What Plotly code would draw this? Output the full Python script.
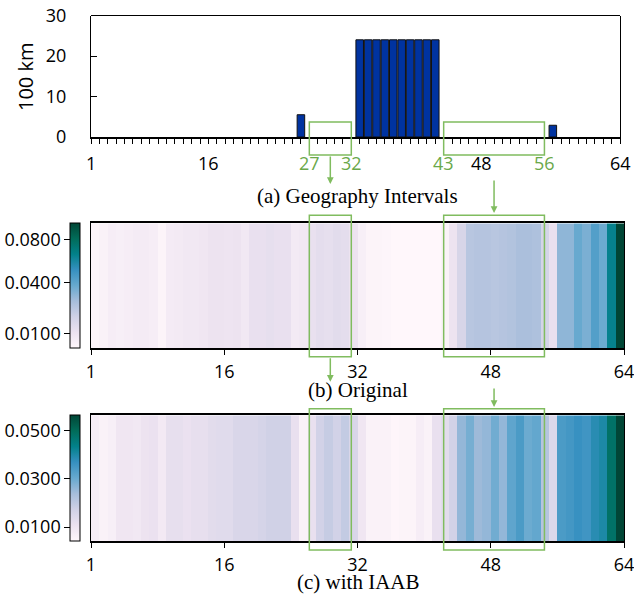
import numpy as np
import plotly.graph_objects as go

# ---------------- data ----------------
POSITIONS = list(range(1, 65))
DIST_POS = [26, 33, 34, 35, 36, 37, 38, 39, 40, 41, 42, 56]
DIST_100KM = [5.5, 24, 24, 24, 24, 24, 24, 24, 24, 24, 24, 2.9]

TOP_TICK_LABELS = ["1", "16", "27", "32", "43", "48", "56", "64"]
TOP_TICK_POS = [1, 15, 27, 32, 43, 47.5, 55, 64]
TOP_TICK_HIGHLIGHT = [False, False, True, True, True, False, True, False]
INTERVALS = [(27, 32), (43, 55)]

HEAT_TICK_POS = [0, 16, 32, 48, 64]
HEAT_TICK_LABELS = ["1", "16", "32", "48", "64"]

ORIGINAL = [
    0.0057, 0.0064, 0.0076, 0.0072, 0.0076, 0.0081, 0.0081, 0.0076,
    0.0060, 0.0081, 0.0085, 0.0089, 0.0089, 0.0094, 0.0104, 0.0104,
    0.0099, 0.0104, 0.0089, 0.0114, 0.0114, 0.0119, 0.0114, 0.0114,
    0.0085, 0.0089, 0.0114, 0.0124, 0.0119, 0.0130, 0.0124, 0.0104,
    0.0072, 0.0060, 0.0060, 0.0057, 0.0053, 0.0053, 0.0053, 0.0053,
    0.0053, 0.0053, 0.0064, 0.0104, 0.0159, 0.0226, 0.0233, 0.0233,
    0.0226, 0.0233, 0.0240, 0.0256, 0.0256, 0.0248, 0.0165, 0.0114,
    0.0304, 0.0304, 0.0375, 0.0339, 0.0424, 0.0366, 0.0634, 0.0990,
]
IAAB = [
    0.0073, 0.0058, 0.0068, 0.0094, 0.0094, 0.0089, 0.0105, 0.0110,
    0.0084, 0.0120, 0.0120, 0.0110, 0.0120, 0.0120, 0.0131, 0.0136,
    0.0136, 0.0152, 0.0152, 0.0152, 0.0162, 0.0173, 0.0173, 0.0173,
    0.0115, 0.0058, 0.0115, 0.0167, 0.0188, 0.0167, 0.0193, 0.0152,
    0.0094, 0.0058, 0.0058, 0.0058, 0.0047, 0.0052, 0.0052, 0.0073,
    0.0058, 0.0115, 0.0131, 0.0167, 0.0256, 0.0287, 0.0246, 0.0256,
    0.0293, 0.0256, 0.0313, 0.0340, 0.0298, 0.0308, 0.0214, 0.0146,
    0.0340, 0.0350, 0.0365, 0.0355, 0.0385, 0.0400, 0.0481, 0.0564,
]
ORIG_RANGE = (0.0053, 0.099)
IAAB_RANGE = (0.0042, 0.0564)
ORIG_CB_TICKS = [0.01, 0.04, 0.08]
ORIG_CB_LABELS = ["0.0100", "0.0400", "0.0800"]
IAAB_CB_TICKS = [0.01, 0.03, 0.05]
IAAB_CB_LABELS = ["0.0100", "0.0300", "0.0500"]

TITLES = ["(a) Geography Intervals", "(b) Original", "(c) with IAAB"]
Y_TITLE = "100 km"

# ---------------- styling / layout ----------------
W, H = 634, 594
def px(x):
    return x / W
def py(y):
    return 1 - y / H

SANS = "Open Sans"
SERIF = "Liberation Serif"
GREEN_BOX = "#80bc5f"
GREEN_TXT = "#6aa84a"
BAR_COLOR = "#0033a0"

top_dom_x = [px(91), px(620)]
top_dom_y = [py(137), py(15.5)]
heat_dom_x = [px(91), px(624)]
b_dom_y = [py(348), py(223.3)]
c_dom_y = [py(541), py(415.3)]
cb_x = px(70.3)

fig = go.Figure()

# (a) bars
fig.add_trace(go.Bar(
    x=DIST_POS, y=DIST_100KM, width=0.9,
    marker=dict(color=BAR_COLOR, line=dict(color="#111111", width=1)),
    xaxis="x", yaxis="y", showlegend=False,
))

# (b) original heatmap (power-0.5 norm)
sq = np.sqrt
fig.add_trace(go.Heatmap(
    z=[sq(np.array(ORIGINAL))], x0=0.5, dx=1, y0=0, dy=1,
    colorscale="PuBuGn", zmin=sq(ORIG_RANGE[0]), zmax=sq(ORIG_RANGE[1]),
    xaxis="x2", yaxis="y2", showscale=True,
    colorbar=dict(x=cb_x, xanchor="left", y=b_dom_y[0], yanchor="bottom",
                  len=b_dom_y[1] - b_dom_y[0], lenmode="fraction",
                  thickness=10, xpad=0, ypad=0, outlinewidth=1,
                  outlinecolor="black", showticklabels=False, ticks=""),
))

# (c) IAAB heatmap (linear)
fig.add_trace(go.Heatmap(
    z=[IAAB], x0=0.5, dx=1, y0=0, dy=1,
    colorscale="PuBuGn", zmin=IAAB_RANGE[0], zmax=IAAB_RANGE[1],
    xaxis="x3", yaxis="y3", showscale=True,
    colorbar=dict(x=cb_x, xanchor="left", y=c_dom_y[0], yanchor="bottom",
                  len=c_dom_y[1] - c_dom_y[0], lenmode="fraction",
                  thickness=10, xpad=0, ypad=0, outlinewidth=1,
                  outlinecolor="black", showticklabels=False, ticks=""),
))

# dummy traces for colorbar tick axes
fig.add_trace(go.Scatter(x=[None], y=[None], xaxis="x2", yaxis="y4",
                         showlegend=False, hoverinfo="skip"))
fig.add_trace(go.Scatter(x=[None], y=[None], xaxis="x3", yaxis="y5",
                         showlegend=False, hoverinfo="skip"))

tickfont = dict(family=SANS, size=18, color="black")

fig.update_layout(
    width=W, height=H, margin=dict(l=0, r=0, t=0, b=0, pad=0, autoexpand=False),
    plot_bgcolor="white", paper_bgcolor="white", showlegend=False,
    xaxis=dict(domain=top_dom_x, anchor="y", range=[1, 64],
               tickmode="array", tickvals=POSITIONS, showticklabels=False,
               ticks="outside", ticklen=5, tickwidth=1, tickcolor="black",
               showline=True, linecolor="black", linewidth=2, mirror=False,
               showgrid=False, zeroline=False),
    yaxis=dict(domain=top_dom_y, anchor="x", range=[0, 30],
               tickmode="array", tickvals=[0, 10, 20, 30],
               ticks="inside", ticklen=6, tickcolor="black",
               ticklabelstandoff=20, tickfont=tickfont,
               showline=True, linecolor="black", linewidth=1, mirror=True,
               showgrid=False, zeroline=False),
    xaxis2=dict(domain=heat_dom_x, anchor="y2", range=[0, 64],
                tickmode="array", tickvals=HEAT_TICK_POS, ticktext=HEAT_TICK_LABELS,
                ticks="outside", ticklen=5, tickcolor="black", tickfont=tickfont,
                ticklabeloverflow="allow", ticklabelstandoff=2,
                showline=True, linecolor="black", linewidth=1.5, mirror=True,
                showgrid=False, zeroline=False),
    yaxis2=dict(domain=b_dom_y, anchor="x2", range=[-0.5, 0.5],
                showticklabels=False, ticks="", showline=True, linecolor="black",
                linewidth=1, mirror=True, showgrid=False, zeroline=False),
    xaxis3=dict(domain=heat_dom_x, anchor="y3", range=[0, 64],
                tickmode="array", tickvals=HEAT_TICK_POS, ticktext=HEAT_TICK_LABELS,
                ticks="outside", ticklen=5, tickcolor="black", tickfont=tickfont,
                ticklabeloverflow="allow", ticklabelstandoff=2,
                showline=True, linecolor="black", linewidth=1.5, mirror=True,
                showgrid=False, zeroline=False),
    yaxis3=dict(domain=c_dom_y, anchor="x3", range=[-0.5, 0.5],
                showticklabels=False, ticks="", showline=True, linecolor="black",
                linewidth=1, mirror=True, showgrid=False, zeroline=False),
    yaxis4=dict(overlaying="y2", anchor="free", position=cb_x, side="left",
                range=[sq(ORIG_RANGE[0]), sq(ORIG_RANGE[1])],
                tickmode="array", tickvals=[sq(v) for v in ORIG_CB_TICKS],
                ticktext=ORIG_CB_LABELS, ticks="outside", ticklen=6,
                tickcolor="black", tickfont=tickfont, showline=False,
                showgrid=False, zeroline=False),
    yaxis5=dict(overlaying="y3", anchor="free", position=cb_x, side="left",
                range=list(IAAB_RANGE),
                tickmode="array", tickvals=IAAB_CB_TICKS,
                ticktext=IAAB_CB_LABELS, ticks="outside", ticklen=6,
                tickcolor="black", tickfont=tickfont, showline=False,
                showgrid=False, zeroline=False),
)

# top border of (a)
fig.add_shape(type="line", xref="x domain", yref="y domain", x0=0, x1=1, y0=1, y1=1,
              line=dict(color="black", width=1))

# top x tick labels
for lab, pos, hl in zip(TOP_TICK_LABELS, TOP_TICK_POS, TOP_TICK_HIGHLIGHT):
    fig.add_annotation(x=pos, y=py(163), xref="x", yref="paper", text=lab,
                       showarrow=False, xanchor="center", yanchor="middle",
                       font=dict(family=SANS, size=18,
                                 color=GREEN_TXT if hl else "black"))

# y title
fig.add_annotation(x=px(25), y=py(77), xref="paper", yref="paper", text=Y_TITLE,
                   textangle=-90, showarrow=False, xanchor="center", yanchor="middle",
                   font=dict(family=SANS, size=20, color="black"))

# panel titles
title_y = [py(196), py(390), py(582)]
cx = (heat_dom_x[0] + heat_dom_x[1]) / 2
for t, ty in zip(TITLES, title_y):
    fig.add_annotation(x=cx, y=ty, xref="paper", yref="paper", text=t,
                       showarrow=False, xanchor="center", yanchor="middle",
                       font=dict(family=SERIF, size=21, color="black"))

# interval boxes
box_rows = [(py(155), py(122)), (py(356.7), py(215.3)), (py(550), py(408.7))]
for (a, b) in INTERVALS:
    for (y0, y1) in box_rows:
        fig.add_shape(type="rect", xref="x", yref="paper", x0=a, x1=b, y0=y0, y1=y1,
                      line=dict(color=GREEN_BOX, width=1.5), fillcolor="rgba(0,0,0,0)")

# arrows
c1 = (INTERVALS[0][0] + INTERVALS[0][1]) / 2
c2 = (INTERVALS[1][0] + INTERVALS[1][1]) / 2
arrows = [(c1, py(184), -29), (c2, py(213), -34), (c1, py(381.7), -25), (c2, py(407), -20)]
for (xa, ya, ay) in arrows:
    fig.add_annotation(x=xa, y=ya, xref="x", yref="paper", text="", showarrow=True,
                       ax=0, ay=ay, arrowhead=2, arrowsize=0.9, arrowwidth=1.5,
                       arrowcolor=GREEN_BOX, standoff=0)

fig.write_html(
    "out.html",
    config={"displayModeBar": False},
    post_script="document.body.style.margin='0px';document.body.style.overflow='hidden';",
)
